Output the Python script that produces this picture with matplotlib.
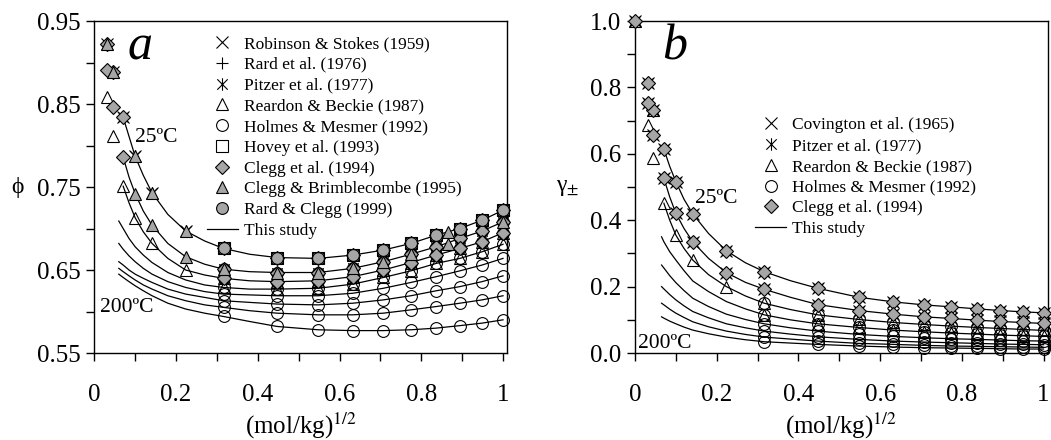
import numpy as np
import matplotlib
matplotlib.use('Agg')
import matplotlib.pyplot as plt
from matplotlib.path import Path
from matplotlib.ticker import MultipleLocator, FormatStrFormatter

plt.rcParams['font.family'] = ['Liberation Serif', 'DejaVu Serif']
plt.rcParams['mathtext.fontset'] = 'stix'

nan = np.nan
grey = '#a6a6a6'

# temperatures of the model curves (25..200 C)
temps = [25, 50, 75, 100, 125, 150, 175, 200]
# sqrt(m) of the measurements
x_low = [0.0316, 0.0447]
x_data = [0.0707, 0.1, 0.1414, 0.2236, 0.3162, 0.4472, 0.5477, 0.6325,
          0.7071, 0.7746, 0.8367, 0.8944, 0.9487, 1.0]
x_hi = x_data[4:]

# ---- panel a : osmotic coefficient ----
xc_a = [0.06, 0.0707, 0.085, 0.1, 0.12, 0.1414, 0.18, 0.2236, 0.27, 0.3162,
        0.38, 0.4472, 0.5477, 0.6325, 0.7071, 0.7746, 0.8367, 0.8944, 0.9487, 1.0]
phi = [
    [nan, 0.834, 0.811, 0.787, 0.764, 0.743, 0.717, 0.697, 0.685, 0.676,
     0.669, 0.665, 0.664, 0.668, 0.674, 0.682, 0.692, 0.700, 0.710, 0.722],
    [nan, 0.786, 0.762, 0.742, 0.721, 0.704, 0.682, 0.666, 0.657, 0.651,
     0.648, 0.647, 0.647, 0.652, 0.660, 0.669, 0.678, 0.688, 0.697, 0.708],
    [nan, 0.751, 0.731, 0.713, 0.696, 0.682, 0.664, 0.650, 0.644, 0.640,
     0.637, 0.636, 0.637, 0.642, 0.650, 0.659, 0.668, 0.676, 0.684, 0.695],
    [0.709, 0.700, 0.688, 0.678, 0.668, 0.659, 0.647, 0.638, 0.632, 0.629,
     0.627, 0.627, 0.628, 0.633, 0.641, 0.649, 0.658, 0.664, 0.672, 0.681],
    [0.682, 0.675, 0.667, 0.660, 0.652, 0.645, 0.636, 0.629, 0.624, 0.621,
     0.620, 0.619, 0.619, 0.622, 0.628, 0.635, 0.642, 0.649, 0.656, 0.664],
    [0.660, 0.656, 0.650, 0.645, 0.640, 0.635, 0.627, 0.621, 0.617, 0.613,
     0.611, 0.609, 0.608, 0.610, 0.614, 0.619, 0.625, 0.630, 0.636, 0.643],
    [0.652, 0.648, 0.643, 0.638, 0.632, 0.627, 0.619, 0.613, 0.608, 0.605,
     0.601, 0.598, 0.596, 0.596, 0.598, 0.602, 0.606, 0.610, 0.614, 0.619],
    [0.645, 0.641, 0.636, 0.631, 0.625, 0.619, 0.610, 0.603, 0.598, 0.594,
     0.588, 0.582, 0.578, 0.577, 0.577, 0.578, 0.580, 0.583, 0.586, 0.590],
]
phi_low = [[0.922, 0.889], [0.891, 0.846], [0.859, 0.811]]
cb_x = [0.866, 0.866]
cb_y = [0.696, 0.681]

# ---- panel b : mean activity coefficient ----
xc_b = [0.065, 0.0707, 0.085, 0.1, 0.12, 0.1414, 0.18, 0.2236, 0.27, 0.3162,
        0.38, 0.4472, 0.5477, 0.6325, 0.7071, 0.7746, 0.8367, 0.8944, 0.9487, 1.0]
gam = [
    [nan, 0.614, 0.562, 0.516, 0.463, 0.419, 0.360, 0.308, 0.272, 0.245,
     0.218, 0.195, 0.168, 0.154, 0.145, 0.139, 0.133, 0.128, 0.124, 0.121],
    [nan, 0.526, 0.470, 0.421, 0.375, 0.335, 0.285, 0.242, 0.213, 0.192,
     0.168, 0.146, 0.128, 0.117, 0.109, 0.104, 0.099, 0.095, 0.092, 0.089],
    [nan, 0.451, 0.400, 0.355, 0.315, 0.280, 0.236, 0.200, 0.172, 0.150,
     0.131, 0.115, 0.101, 0.092, 0.086, 0.081, 0.077, 0.074, 0.071, 0.068],
    [0.350, 0.335, 0.305, 0.280, 0.248, 0.217, 0.185, 0.155, 0.133, 0.115,
     0.100, 0.088, 0.077, 0.069, 0.064, 0.060, 0.057, 0.054, 0.052, 0.050],
    [0.265, 0.256, 0.233, 0.212, 0.188, 0.165, 0.140, 0.117, 0.101, 0.088,
     0.076, 0.066, 0.056, 0.050, 0.046, 0.043, 0.041, 0.039, 0.037, 0.036],
    [0.200, 0.193, 0.176, 0.160, 0.142, 0.125, 0.106, 0.088, 0.076, 0.066,
     0.057, 0.049, 0.041, 0.036, 0.033, 0.031, 0.029, 0.027, 0.026, 0.025],
    [0.150, 0.145, 0.132, 0.120, 0.107, 0.094, 0.079, 0.066, 0.056, 0.048,
     0.042, 0.036, 0.029, 0.026, 0.023, 0.021, 0.020, 0.019, 0.018, 0.017],
    [0.109, 0.105, 0.096, 0.088, 0.078, 0.069, 0.058, 0.048, 0.040, 0.034,
     0.030, 0.026, 0.021, 0.018, 0.016, 0.015, 0.014, 0.013, 0.012, 0.012],
]
gam_low = [[0.814, 0.732], [0.752, 0.657], [0.687, 0.586]]
gam_zero = 1.0

# X with a vertical bar through it
asterisk = Path([(-1, -1), (1, 1), (-1, 1), (1, -1), (0, -1.2), (0, 1.2)],
                [Path.MOVETO, Path.LINETO, Path.MOVETO, Path.LINETO, Path.MOVETO, Path.LINETO])


def pts(curves, xc, ks, xs):
    px, py = [], []
    for k in ks:
        for x in xs:
            px.append(x)
            py.append(curves[k][xc.index(x)])
    return px, py


def low(vals, ks):
    px, py = [], []
    for k in ks:
        px += x_low
        py += vals[k]
    return px, py


def join(*parts):
    px, py = [], []
    for a, b in parts:
        px += list(a)
        py += list(b)
    return px, py


fig = plt.figure(figsize=(10.51, 4.4), dpi=100)
ax1 = fig.add_axes([0.0897, 0.1977, 0.3928, 0.7545])
ax2 = fig.add_axes([0.6042, 0.1977, 0.3926, 0.7545])

sets_a = [
    ('Robinson & Stokes (1959)', 'x', 'none', 8, join(low(phi_low, [0]), pts(phi, xc_a, [0], x_data))),
    ('Rard et al. (1976)', '+', 'none', 9, pts(phi, xc_a, [0], x_hi)),
    ('Pitzer et al. (1977)', asterisk, 'none', 9,
     join(pts(phi, xc_a, [0], x_data), pts(phi, xc_a, [1], x_hi))),
    ('Reardon & Beckie (1987)', '^', 'none', 9,
     join(low(phi_low, [2]), pts(phi, xc_a, [2], x_data[:4]), pts(phi, xc_a, [2, 3], x_hi))),
    ('Holmes & Mesmer (1992)', 'o', 'none', 8.5, pts(phi, xc_a, [1, 2, 3, 4, 5, 6, 7], x_hi)),
    ('Hovey et al. (1993)', 's', 'none', 8, pts(phi, xc_a, [0], x_hi)),
    ('Clegg et al. (1994)', 'D', grey, 7,
     join(low(phi_low, [0, 1]), pts(phi, xc_a, [0, 1], x_data[:1]), pts(phi, xc_a, [0, 1, 2], x_hi))),
    ('Clegg & Brimblecombe (1995)', '^', grey, 9,
     join(low(phi_low, [0]), pts(phi, xc_a, [0, 1], x_data[1:4]),
          pts(phi, xc_a, [1], x_hi[:6] + x_hi[-1:]), (cb_x, cb_y))),
    ('Rard & Clegg (1999)', 'o', grey, 8.5, pts(phi, xc_a, [0], x_hi)),
]

sets_b = [
    ('Covington et al. (1965)', 'x', 'none', 8,
     join(([0.0], [gam_zero]), low(gam_low, [0, 1]), pts(gam, xc_b, [0, 1], x_data))),
    ('Pitzer et al. (1977)', asterisk, 'none', 9,
     join(([0.0], [gam_zero]), low(gam_low, [0, 1]), pts(gam, xc_b, [0, 1], x_data))),
    ('Reardon & Beckie (1987)', '^', 'none', 9,
     join(([0.0], [gam_zero]), low(gam_low, [2]), ([x_low[1]], [gam_low[0][1]]),
          pts(gam, xc_b, [2], x_data[:4]), pts(gam, xc_b, [2, 3], x_hi))),
    ('Holmes & Mesmer (1992)', 'o', 'none', 8.5, pts(gam, xc_b, [2, 3, 4, 5, 6, 7], x_hi)),
    ('Clegg et al. (1994)', 'D', grey, 7,
     join(([0.0], [gam_zero]), low(gam_low, [0, 1]), pts(gam, xc_b, [0, 1], x_data))),
]

for ax, xc, curves, sets in [(ax1, xc_a, phi, sets_a), (ax2, xc_b, gam, sets_b)]:
    for c in curves:
        ax.plot(xc, c, color='black', lw=0.9, zorder=2)
    for label, mk, fc, ms, (px, py) in sets:
        z = 4 if fc == grey else 3
        ax.plot(px, py, ls='none', marker=mk, ms=ms, mfc=fc, mec='black', mew=0.8,
                label=label, zorder=z, clip_on=False)
    ax.plot([], [], color='black', lw=0.9, label='This study')

    ax.set_xlim(0, 1.01)
    ax.xaxis.set_major_locator(MultipleLocator(0.2))
    ax.xaxis.set_minor_locator(MultipleLocator(0.1))
    ax.xaxis.set_major_formatter(FormatStrFormatter('%g'))
    ax.tick_params(which='both', direction='out', length=6, width=1, labelsize=18)
    ax.tick_params(axis='x', which='both', pad=16)
    ax.tick_params(axis='y', which='both', pad=4)
    for s in ax.spines.values():
        s.set_linewidth(1.0)
    ax.set_xlabel('(mol/kg)$^{1/2}$', fontsize=18, labelpad=4)

ax1.set_ylim(0.55, 0.95)
ax1.yaxis.set_major_locator(MultipleLocator(0.1))
ax1.yaxis.set_minor_locator(MultipleLocator(0.05))
ax1.yaxis.set_major_formatter(FormatStrFormatter('%.2f'))
ax1.set_yticks([0.55, 0.65, 0.75, 0.85, 0.95])
ax1.set_ylabel('ϕ', fontsize=17, rotation=0, labelpad=14, va='center')

ax2.set_ylim(0.0, 1.0)
ax2.yaxis.set_major_locator(MultipleLocator(0.2))
ax2.yaxis.set_minor_locator(MultipleLocator(0.1))
ax2.yaxis.set_major_formatter(FormatStrFormatter('%.1f'))
ax2.set_ylabel('γ$_{\\pm}$', fontsize=17, rotation=0, labelpad=16, va='center')

ax1.legend(loc='upper left', bbox_to_anchor=(0.273, 0.955), frameon=False, fontsize=12.5,
           borderpad=0, borderaxespad=0, handlelength=1.78, handletextpad=0.35,
           labelspacing=0.265)
ax2.legend(loc='upper left', bbox_to_anchor=(0.291, 0.71), frameon=False, fontsize=12.5,
           borderpad=0, borderaxespad=0, handlelength=1.78, handletextpad=0.35,
           labelspacing=0.265)

ax1.text(0.08, 0.885, 'a', transform=ax1.transAxes, fontsize=36, style='italic')
ax2.text(0.065, 0.885, 'b', transform=ax2.transAxes, fontsize=36, style='italic')
ax1.text(0.1, 0.81, '25ºC', fontsize=15.5, va='center')
ax1.text(0.015, 0.605, '200ºC', fontsize=15.5, va='center')
ax2.text(0.148, 0.465, '25ºC', fontsize=15.5, va='center')
ax2.text(0.008, 0.03, '200ºC', fontsize=15.5, va='center')

fig.savefig('out.png', dpi=100)
